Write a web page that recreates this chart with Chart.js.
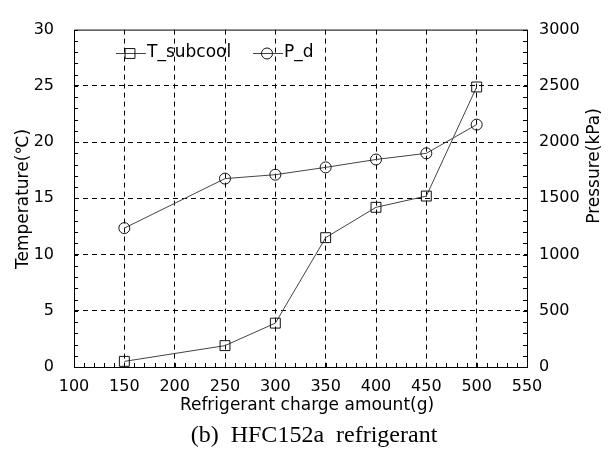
<!DOCTYPE html>
<html>
<head>
<meta charset="utf-8">
<script src="https://cdn.jsdelivr.net/npm/chart.js@4/dist/chart.umd.min.js"></script>
<style>
  html, body { margin: 0; padding: 0; background: #fff; }
  #chart { display: block; }
</style>
</head>
<body>
<canvas id="chart" width="612" height="452"></canvas>
<script>
const chargeAmount = [150, 250, 300, 350, 400, 450, 500];
const tSubcool = [0.5, 1.9, 3.9, 11.5, 14.2, 15.2, 24.9];   // degC
const pDischarge = [1235, 1675, 1710, 1775, 1845, 1900, 2155]; // kPa

const xTicks = [100, 150, 200, 250, 300, 350, 400, 450, 500, 550];
const tempTicks = [0, 5, 10, 15, 20, 25, 30];
const pressTicks = [0, 500, 1000, 1500, 2000, 2500, 3000];

const seriesNames = ['T_subcool', 'P_d'];

Chart.defaults.font.family = "'DejaVu Sans', sans-serif";
Chart.defaults.color = '#000';

const toPoints = (xs, ys) => xs.map((x, i) => ({ x: x, y: ys[i] }));
const plain = v => String(v);

// grid only at interior major ticks, frame drawn separately
function innerGrid(min, max) {
  return ctx => {
    const v = ctx.tick ? ctx.tick.value : null;
    return (v === min || v === max) ? 'rgba(0,0,0,0)' : '#000';
  };
}

const decor = {
  id: 'decor',
  beforeDatasetsDraw(chart) {
    const { ctx, chartArea: a, scales } = chart;
    ctx.save();
    ctx.strokeStyle = '#000';
    ctx.lineWidth = 1;
    ctx.setLineDash([]);
    ctx.strokeRect(a.left + 0.5, a.top + 0.5, a.right - a.left, a.bottom - a.top);

    // minor inward ticks
    ctx.beginPath();
    for (let v = 100; v <= 550; v += 10) {
      const px = Math.round(scales.x.getPixelForValue(v)) + 0.5;
      ctx.moveTo(px, a.bottom);
      ctx.lineTo(px, a.bottom - 4);
    }
    for (let v = 0; v <= 30; v += 1) {
      const py = Math.round(scales.y.getPixelForValue(v)) + 0.5;
      ctx.moveTo(a.left, py);
      ctx.lineTo(a.left + 4, py);
    }
    for (let v = 0; v <= 3000; v += 100) {
      const py = Math.round(scales.y1.getPixelForValue(v)) + 0.5;
      ctx.moveTo(a.right, py);
      ctx.lineTo(a.right - 4, py);
    }
    ctx.stroke();
    ctx.restore();
  },
  afterDraw(chart) {
    const { ctx, chartArea: a } = chart;
    ctx.save();

    // legend inside plot
    const legendY = 53;
    const items = [{ x: a.left + 42 }, { x: a.left + 179 }];
    chart.data.datasets.forEach((ds, i) => {
      const x0 = items[i].x;
      ctx.strokeStyle = ds.borderColor;
      ctx.lineWidth = 1;
      ctx.beginPath();
      ctx.moveTo(x0, legendY + 0.5);
      ctx.lineTo(x0 + 30, legendY + 0.5);
      ctx.stroke();
      ctx.fillStyle = 'rgba(0,0,0,0)';
      ctx.strokeStyle = ds.pointBorderColor;
      Chart.helpers.drawPoint(ctx, {
        pointStyle: ds.pointStyle, radius: ds.pointRadius, rotation: 0, borderWidth: 1
      }, x0 + 14, legendY + 0.5);
      ctx.fillStyle = '#000';
      ctx.font = "17px 'DejaVu Sans'";
      ctx.textAlign = 'left';
      ctx.textBaseline = 'middle';
      ctx.fillText(ds.label, x0 + 31, legendY);
    });

    // axis titles
    ctx.fillStyle = '#000';
    ctx.font = "17px 'DejaVu Sans'";
    ctx.textAlign = 'center';
    ctx.textBaseline = 'alphabetic';
    ctx.fillText('Refrigerant charge amount(g)', 307, 410);

    ctx.textBaseline = 'middle';
    ctx.save();
    ctx.translate(24, 199);
    ctx.rotate(-Math.PI / 2);
    ctx.fillText('Temperature(\u2103)', 0, 0);
    ctx.restore();

    ctx.save();
    ctx.translate(595, 166);
    ctx.rotate(-Math.PI / 2);
    ctx.fillText('Pressure(kPa)', 0, 0);
    ctx.restore();

    // caption
    ctx.font = "24px 'Liberation Serif', 'Times New Roman', serif";
    ctx.textBaseline = 'alphabetic';
    ctx.fillText('(b)  HFC152a  refrigerant', 314, 442);
    ctx.restore();
  }
};

new Chart(document.getElementById('chart').getContext('2d'), {
  type: 'line',
  data: {
    datasets: [
      {
        label: seriesNames[0],
        data: toPoints(chargeAmount, tSubcool),
        yAxisID: 'y',
        borderColor: '#444',
        borderWidth: 1,
        pointStyle: 'rect',
        pointRadius: 7,
        pointBorderColor: '#111',
        pointBackgroundColor: 'rgba(0,0,0,0)',
        pointBorderWidth: 1,
        tension: 0
      },
      {
        label: seriesNames[1],
        data: toPoints(chargeAmount, pDischarge),
        yAxisID: 'y1',
        borderColor: '#444',
        borderWidth: 1,
        pointStyle: 'circle',
        pointRadius: 5.5,
        pointBorderColor: '#111',
        pointBackgroundColor: 'rgba(0,0,0,0)',
        pointBorderWidth: 1,
        tension: 0
      }
    ]
  },
  options: {
    responsive: false,
    animation: false,
    devicePixelRatio: 1,
    layout: { padding: { top: 18, left: 0, right: 0, bottom: 0 } },
    plugins: { legend: { display: false }, tooltip: { enabled: false }, title: { display: false } },
    scales: {
      x: {
        type: 'linear',
        min: xTicks[0],
        max: xTicks[xTicks.length - 1],
        afterBuildTicks: s => { s.ticks = xTicks.map(v => ({ value: v })); },
        afterFit: s => { s.height = 85; },
        ticks: { font: { size: 16 }, color: '#000', padding: 10, maxRotation: 0, autoSkip: false, callback: plain },
        grid: { color: innerGrid(100, 550), lineWidth: 1, drawTicks: false },
        border: { display: false, dash: [5, 4] }
      },
      y: {
        type: 'linear',
        position: 'left',
        min: tempTicks[0],
        max: tempTicks[tempTicks.length - 1],
        afterBuildTicks: s => { s.ticks = tempTicks.map(v => ({ value: v })); },
        afterFit: s => { s.width = 74; },
        ticks: { font: { size: 16 }, color: '#000', padding: 20, callback: plain },
        grid: { color: innerGrid(0, 30), lineWidth: 1, drawTicks: false },
        border: { display: false, dash: [5, 4] }
      },
      y1: {
        type: 'linear',
        position: 'right',
        min: pressTicks[0],
        max: pressTicks[pressTicks.length - 1],
        afterBuildTicks: s => { s.ticks = pressTicks.map(v => ({ value: v })); },
        afterFit: s => { s.width = 85; },
        ticks: { font: { size: 16 }, color: '#000', padding: 12, callback: plain },
        grid: { drawOnChartArea: false, drawTicks: false },
        border: { display: false }
      }
    }
  },
  plugins: [decor]
});
</script>
</body>
</html>
